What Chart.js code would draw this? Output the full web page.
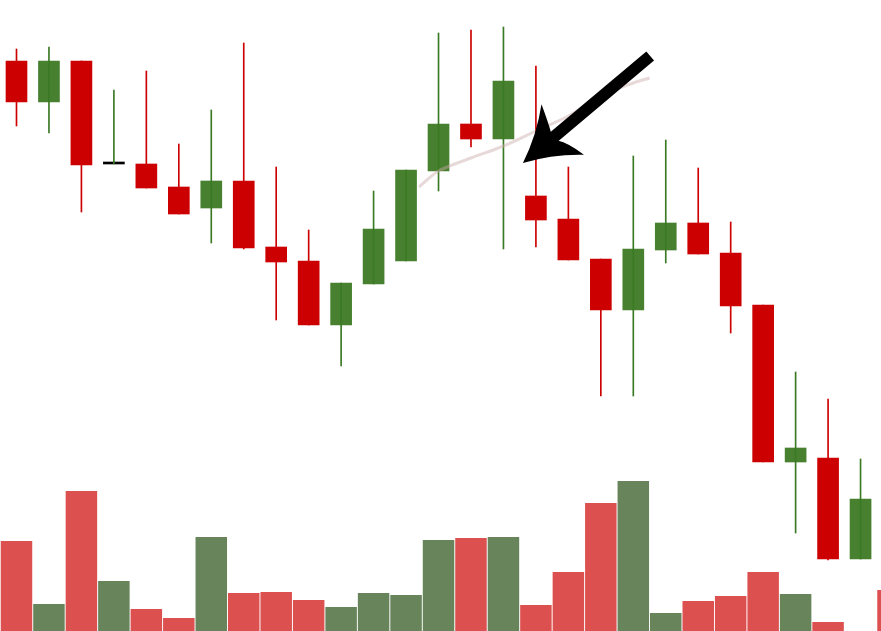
<!DOCTYPE html>
<html>
<head>
<meta charset="utf-8">
<script src="https://cdn.jsdelivr.net/npm/chart.js@4.4.0/dist/chart.umd.min.js"></script>
<style>
	body { margin: 0; background: #fff; }
	#wrap { width: 881px; height: 631px; }
</style>
</head>
<body>
<div id="wrap"><canvas id="chart"></canvas></div>
<script>
// OHLC per session (index 0..26)
const opens  = [143.9, 139.8, 143.9, 133.6, 133.6, 131.3, 129.2, 131.9, 125.3, 123.9, 117.5, 121.6, 123.9, 132.9, 137.6, 136.1, 130.4, 128.1, 124.1, 119.0, 125.0, 127.7, 124.7, 119.5, 103.8, 104.2, 94.1];
const highs  = [145.1, 145.3, 143.9, 141.0, 142.9, 135.6, 139.0, 145.7, 133.3, 127.0, 121.7, 130.9, 133.0, 146.7, 147.0, 147.3, 143.4, 133.3, 124.1, 134.4, 136.0, 133.2, 127.8, 119.5, 112.8, 110.1, 104.1];
const lows   = [137.4, 136.7, 128.8, 133.6, 131.2, 128.6, 125.7, 125.1, 118.0, 117.5, 113.4, 121.6, 123.9, 130.9, 135.3, 125.1, 125.3, 124.0, 110.4, 110.4, 123.7, 124.6, 116.7, 103.8, 96.7, 94.0, 94.1];
const closes = [139.8, 143.9, 133.5, 133.6, 131.2, 128.6, 131.9, 125.2, 123.8, 117.5, 121.7, 127.1, 133.0, 137.6, 136.1, 141.9, 128.0, 124.0, 119.0, 125.1, 127.7, 124.6, 119.4, 103.8, 105.2, 94.1, 100.1];

// volume, one more session than candles (last one is cut at the right edge)
const volumes  = [900, 270, 1400, 500, 220, 130, 940, 380, 390, 310, 240, 380, 360, 910, 930, 940, 260, 590, 1280, 1500, 180, 300, 350, 590, 370, 90, null, 410];
const volumeUp = [false, true, false, true, false, false, true, false, false, false, true, true, true, true, false, true, false, false, false, true, true, false, false, false, true, false, true, false];

// moving average trace (session index, price)
const maIndex = [12.4, 13, 14, 15, 16, 17, 18, 19, 19.5];
const maValue = [131.3, 132.9, 134.2, 135.4, 136.9, 138.4, 140.4, 141.7, 142.2];

// arrow annotation: tail and tip in (session index, price)
const arrowFrom = [19.52, 144.4];
const arrowTo   = [15.6, 133.7];

const RED = '#cc0000';
const GREEN = '#47802f';
const GREEN_WICK = '#3b7a24';

let bodies = [], wicks = [], bodyColors = [], wickColors = [];
for (let i = 0; i < opens.length; i++) {
	bodies.push({ x: i, y: [opens[i], closes[i]] });
	wicks.push({ x: i, y: [lows[i], highs[i]] });
	if (closes[i] > opens[i]) {
		bodyColors.push(GREEN); wickColors.push(GREEN_WICK);
	} else if (closes[i] < opens[i]) {
		bodyColors.push(RED); wickColors.push(RED);
	} else {
		bodyColors.push('#000000'); wickColors.push(GREEN_WICK);
	}
}
let volData = volumes.map((v, i) => ({ x: i, y: v }));
let volColors = volumeUp.map((up) => up ? '#67845a' : '#dc5050');
let maData = maIndex.map((x, i) => ({ x: x, y: maValue[i] }));

// draws the thick black arrow on top of the candles
const arrowPlugin = {
	id: 'arrow',
	afterDatasetsDraw(chart) {
		const ctx = chart.ctx;
		const sx = chart.scales.x, sy = chart.scales.y;
		const x0 = sx.getPixelForValue(arrowFrom[0]), y0 = sy.getPixelForValue(arrowFrom[1]);
		const x1 = sx.getPixelForValue(arrowTo[0]), y1 = sy.getPixelForValue(arrowTo[1]);
		const len = Math.hypot(x0 - x1, y0 - y1);
		const bx = (x0 - x1) / len, by = (y0 - y1) / len; // back along the shaft
		const px = -by, py = bx; // perpendicular
		const P = (d, s) => [x1 + bx * d + px * s, y1 + by * d + py * s];

		ctx.save();
		ctx.strokeStyle = '#000';
		ctx.fillStyle = '#000';
		ctx.lineWidth = 12;
		ctx.lineCap = 'butt';
		ctx.beginPath();
		let j = P(36, 0);
		ctx.moveTo(x0, y0);
		ctx.lineTo(j[0], j[1]);
		ctx.stroke();

		ctx.beginPath();
		let p;
		ctx.moveTo(x1, y1);
		p = [P(28.7, -12.4), P(52, -33)];
		ctx.quadraticCurveTo(p[0][0], p[0][1], p[1][0], p[1][1]);
		p = [P(46, -16), P(41, -5)];
		ctx.quadraticCurveTo(p[0][0], p[0][1], p[1][0], p[1][1]);
		p = P(41, 5);
		ctx.lineTo(p[0], p[1]);
		p = [P(48, 14), P(52, 33)];
		ctx.quadraticCurveTo(p[0][0], p[0][1], p[1][0], p[1][1]);
		p = [P(28.7, 12.4), P(0, 0)];
		ctx.quadraticCurveTo(p[0][0], p[0][1], p[1][0], p[1][1]);
		ctx.closePath();
		ctx.fill();
		ctx.restore();
	}
};

const ctx = document.getElementById('chart').getContext('2d');
const myChart = new Chart(ctx, {
	type: 'bar',
	data: {
		datasets: [{
			label: 'MA',
			type: 'line',
			data: maData,
			yAxisID: 'y',
			borderColor: 'rgba(205,170,170,0.45)',
			borderWidth: 3,
			tension: 0.3,
			pointRadius: 0,
			order: 0
		}, {
			label: 'Wick',
			data: wicks,
			yAxisID: 'y',
			backgroundColor: wickColors,
			barThickness: 1,
			grouped: false,
			order: 1
		}, {
			label: 'Body',
			data: bodies,
			yAxisID: 'y',
			backgroundColor: bodyColors,
			barThickness: 21,
			minBarLength: 2,
			grouped: false,
			order: 2
		}, {
			label: 'Volume',
			data: volData,
			yAxisID: 'yv',
			backgroundColor: volColors,
			categoryPercentage: 1.0,
			barPercentage: 0.97,
			grouped: false,
			order: 4
		}]
	},
	options: {
		responsive: true,
		maintainAspectRatio: false,
		animation: false,
		layout: { padding: 0 },
		plugins: {
			legend: { display: false },
			tooltip: { enabled: false }
		},
		scales: {
			x: { type: 'linear', display: false, offset: false, min: -0.508, max: 26.63 },
			y: { type: 'linear', display: false, min: 86.9, max: 150 },
			yv: { type: 'linear', display: false, min: 0, max: 6310 }
		}
	},
	plugins: [arrowPlugin]
});
</script>
</body>
</html>
